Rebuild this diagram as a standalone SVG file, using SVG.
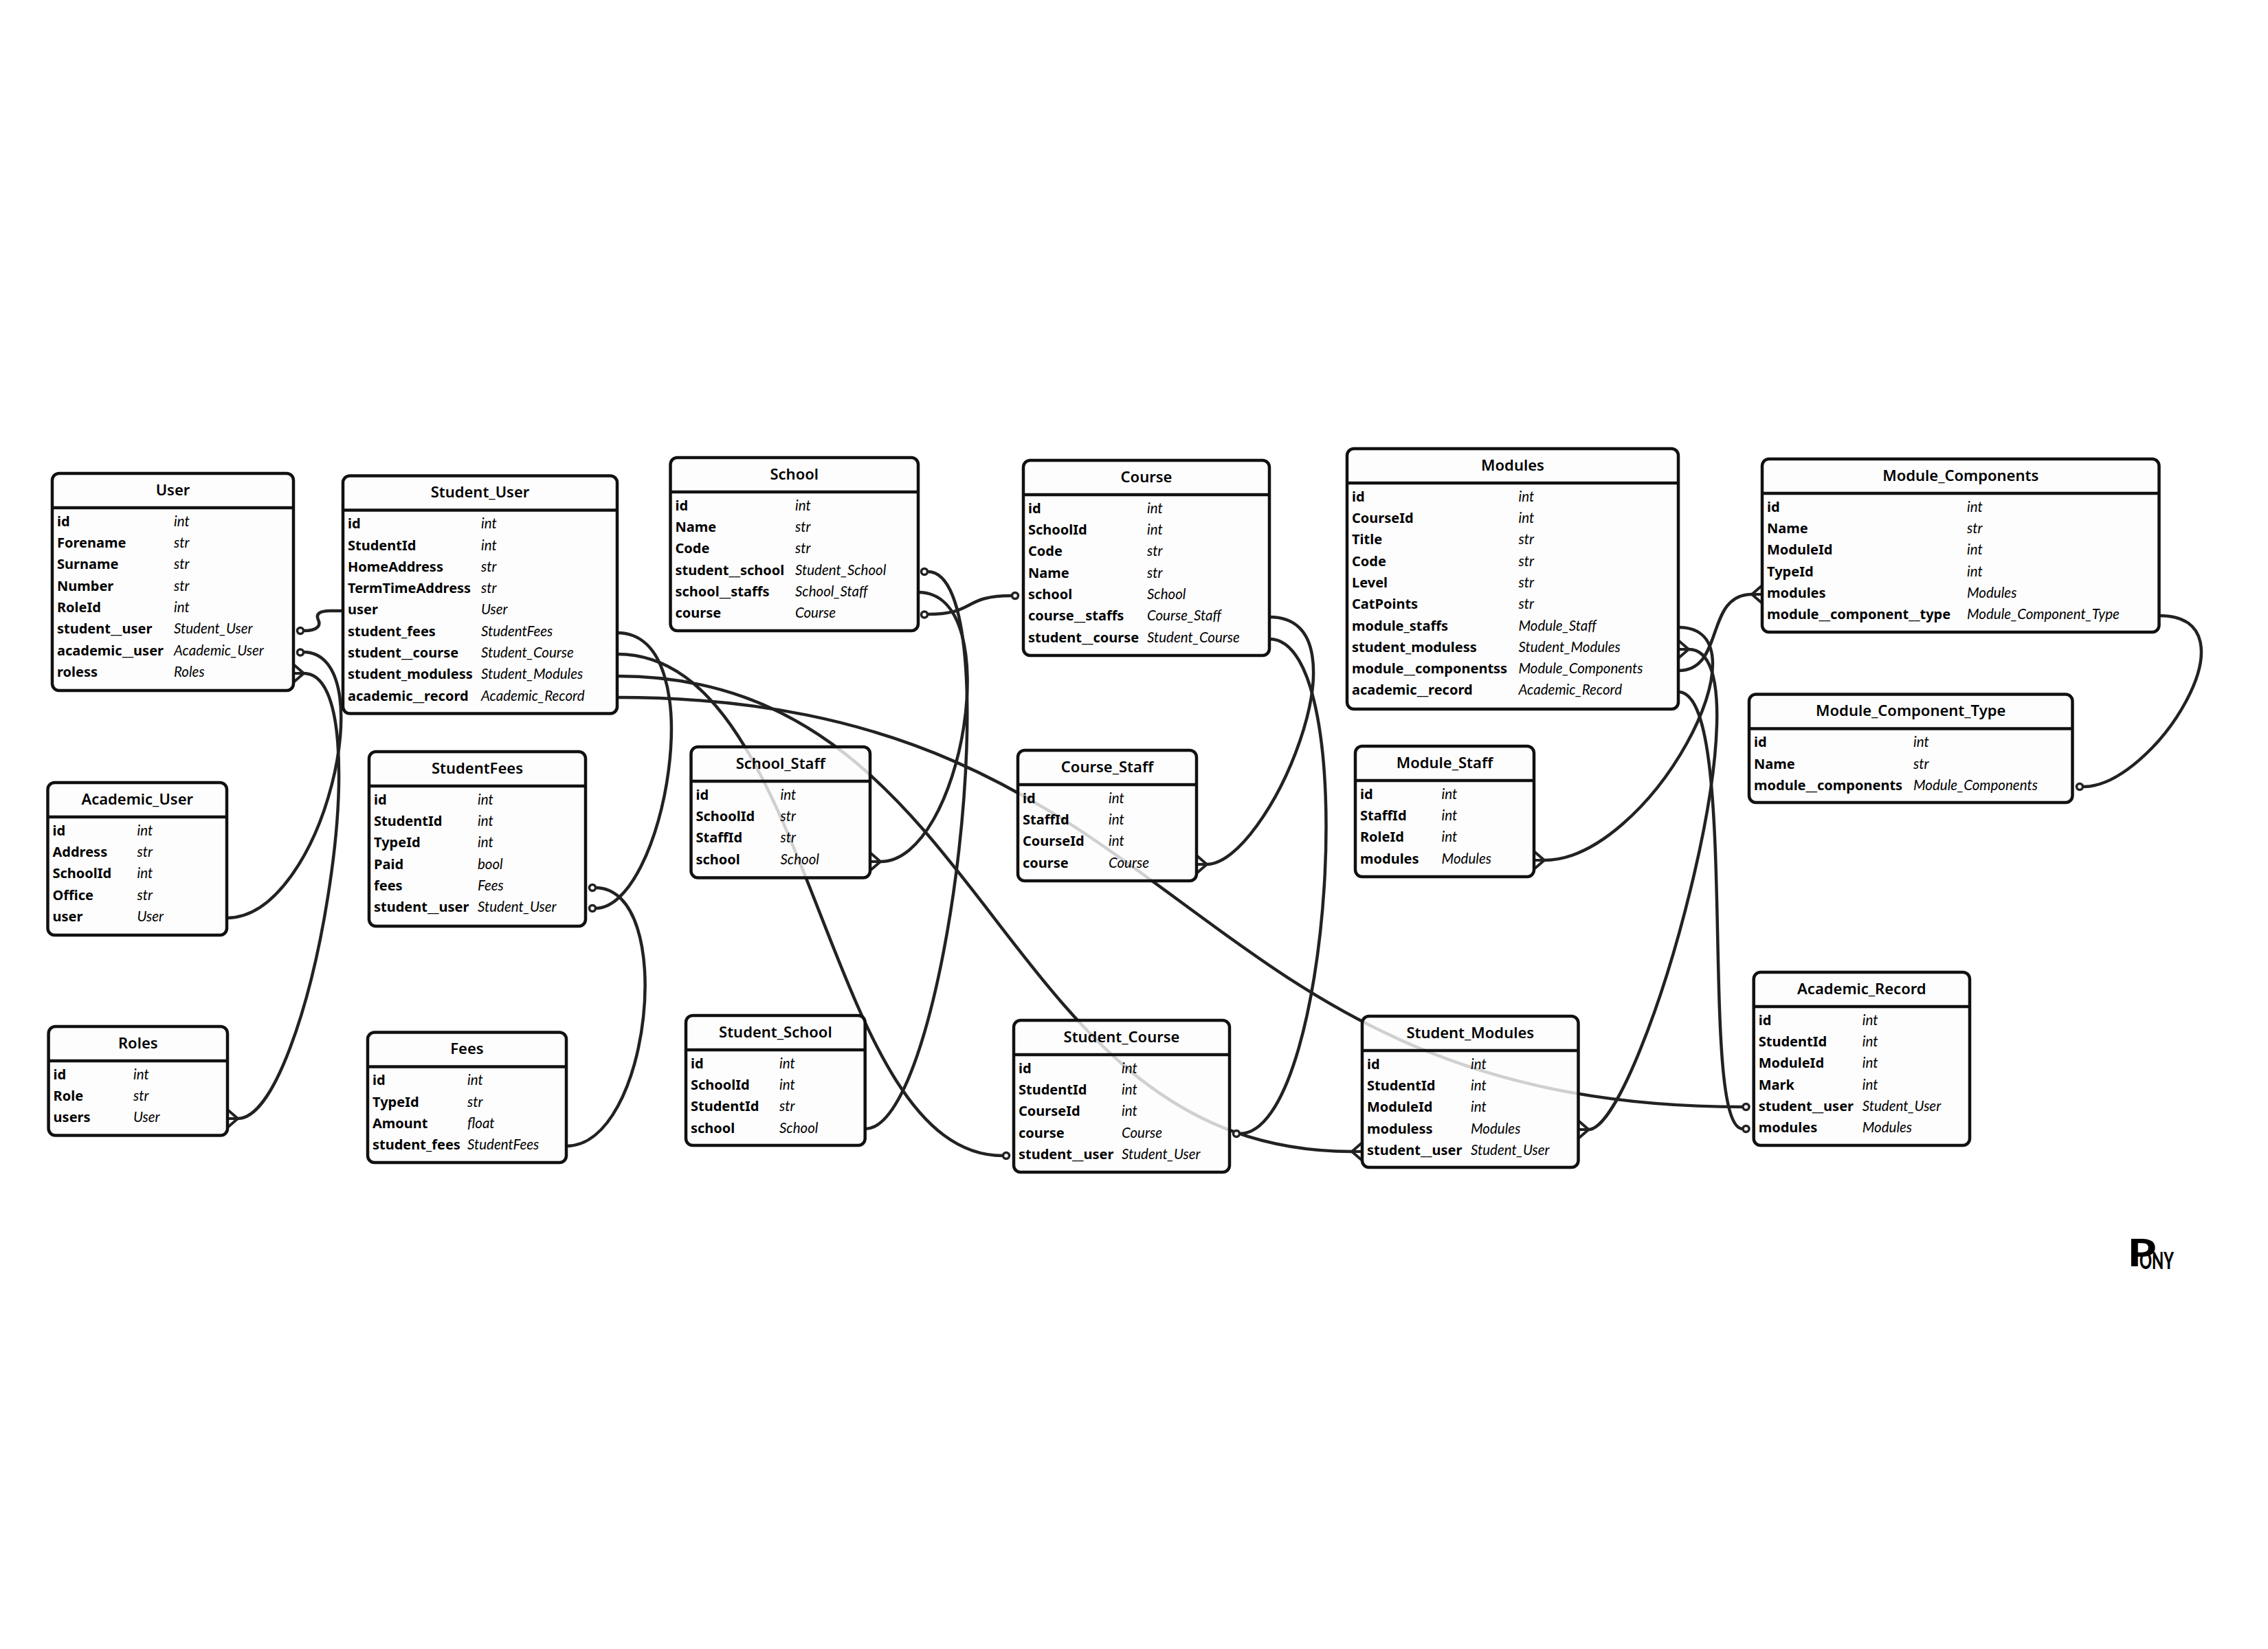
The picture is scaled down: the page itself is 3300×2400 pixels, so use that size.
<svg xmlns="http://www.w3.org/2000/svg" width="3300" height="2400" viewBox="0 0 3300 2400">
<style>
text{fill:#000}
.bg{fill:#fff}
.box{fill:#fdfdfd;fill-opacity:.8;stroke:#111;stroke-width:4.5}
.hd{stroke:#111;stroke-width:4.5}
.t{font-family:"Noto Sans","Liberation Sans",sans-serif;font-size:22px;font-weight:600;text-anchor:middle;transform:translateY(-1.2px)}
.a{font-family:"Noto Sans","Liberation Sans",sans-serif;font-size:20px;font-weight:700;transform:translateY(-.7px)}
.b{font-family:"Lato","Liberation Sans",sans-serif;font-size:20.5px;font-style:italic;font-weight:400;transform:translateY(-.7px)}
.c path{fill:none;stroke:#222;stroke-width:4.5;stroke-linecap:round;stroke-linejoin:round}
.m{fill:none;stroke:#222;stroke-width:4;stroke-linecap:round;stroke-linejoin:round}
.o{fill:#fff;stroke:#222;stroke-width:3.5}
.logo{font-family:"Lato","Liberation Sans",sans-serif;font-weight:900}
</style>
<defs>
<path id="cr" class="m" d="M0 -13L15 0L0 13M0 0H15"/>
<path id="cl" class="m" d="M0 -13L-15 0L0 13M0 0H-15"/>
<circle id="ci" r="4.5" class="o"/>
</defs>
<rect class="bg" width="3300" height="2400"/>
<g id="connectors" class="c">
<path d="M441 918C466 918 466 908 463 902C459 893 466 889 480 889H499"/>
<path d="M441 949C560 949 470 1336 330 1336"/>
<path d="M442 980C560 980 450 1628 346 1628"/>
<path d="M898 921C1039 921 967 1322 866 1322"/>
<path d="M866 1292C986 1292 947 1668 824 1668"/>
<path d="M1350 832C1472 832 1379 1643 1259 1643"/>
<path d="M1336 862C1467 862 1400 1254 1281 1254"/>
<path d="M1350 894C1420 894 1400 867 1472 867"/>
<path d="M1847 898C1999 898 1844 1258 1756 1258"/>
<path d="M1847 930C1984 930 1937 1650 1804 1650"/>
<path d="M898 952C1187 952 1196 1682 1459 1682"/>
<path d="M898 984C1448 984 1442 1676 1967 1676"/>
<path d="M898 1015C1731 1015 1707 1611 2536 1611"/>
<path d="M2442 913C2582 913 2399 1252 2247 1252"/>
<path d="M2457 945C2583 945 2387 1644 2311 1644"/>
<path d="M2442 976C2510 976 2480 865 2549 865"/>
<path d="M2442 1007C2534 1007 2469 1643 2536 1643"/>
<path d="M3141 896C3291 896 3134 1145 3031 1145"/>
<use href="#ci" x="437" y="918"/>
<use href="#ci" x="437" y="949.5"/>
<use href="#ci" x="862" y="1292"/>
<use href="#ci" x="862" y="1322"/>
<use href="#ci" x="1345" y="832"/>
<use href="#ci" x="1345" y="894.5"/>
<use href="#ci" x="1477" y="867"/>
<use href="#ci" x="1464" y="1682"/>
<use href="#ci" x="1799" y="1650"/>
<use href="#ci" x="3026" y="1145"/>
<use href="#ci" x="2540.5" y="1611"/>
<use href="#ci" x="2540.5" y="1643"/>
<use href="#cr" x="427" y="980"/>
<use href="#cr" x="331" y="1628"/>
<use href="#cr" x="1266" y="1254"/>
<use href="#cr" x="1741" y="1258"/>
<use href="#cr" x="2232" y="1252"/>
<use href="#cr" x="2296.5" y="1644"/>
<use href="#cl" x="1982" y="1676"/>
<use href="#cr" x="2442" y="945"/>
<use href="#cl" x="2564" y="865"/>
</g>
<g id="User" transform="translate(76,689)"><rect class="box" width="351" height="316" rx="10"/><path class="hd" d="M0 50H351"/><text class="t" x="175.500" y="33">User</text>
<text class="a" x="7" y="77.5">id</text><text class="b" x="177" y="77.5">int</text>
<text class="a" x="7" y="108.8">Forename</text><text class="b" x="177" y="108.8">str</text>
<text class="a" x="7" y="140.1">Surname</text><text class="b" x="177" y="140.1">str</text>
<text class="a" x="7" y="171.4">Number</text><text class="b" x="177" y="171.4">str</text>
<text class="a" x="7" y="202.7">RoleId</text><text class="b" x="177" y="202.7">int</text>
<text class="a" x="7" y="234">student__user</text><text class="b" x="177" y="234">Student_User</text>
<text class="a" x="7" y="265.3">academic__user</text><text class="b" x="177" y="265.3">Academic_User</text>
<text class="a" x="7" y="296.6">roless</text><text class="b" x="177" y="296.6">Roles</text></g>
<g id="Student_User" transform="translate(499,692.5)"><rect class="box" width="399" height="346" rx="10"/><path class="hd" d="M0 50H399"/><text class="t" x="199.500" y="33">Student_User</text>
<text class="a" x="7" y="77.5">id</text><text class="b" x="201" y="77.5">int</text>
<text class="a" x="7" y="108.8">StudentId</text><text class="b" x="201" y="108.8">int</text>
<text class="a" x="7" y="140.1">HomeAddress</text><text class="b" x="201" y="140.1">str</text>
<text class="a" x="7" y="171.4">TermTimeAddress</text><text class="b" x="201" y="171.4">str</text>
<text class="a" x="7" y="202.7">user</text><text class="b" x="201" y="202.7">User</text>
<text class="a" x="7" y="234">student_fees</text><text class="b" x="201" y="234">StudentFees</text>
<text class="a" x="7" y="265.3">student__course</text><text class="b" x="201" y="265.3">Student_Course</text>
<text class="a" x="7" y="296.6">student_moduless</text><text class="b" x="201" y="296.6">Student_Modules</text>
<text class="a" x="7" y="327.9">academic__record</text><text class="b" x="201" y="327.9">Academic_Record</text></g>
<g id="School" transform="translate(975.5,666)"><rect class="box" width="360.5" height="252" rx="10"/><path class="hd" d="M0 50H360.500"/><text class="t" x="180.250" y="33">School</text>
<text class="a" x="7" y="77.5">id</text><text class="b" x="181.500" y="77.5">int</text>
<text class="a" x="7" y="108.8">Name</text><text class="b" x="181.500" y="108.8">str</text>
<text class="a" x="7" y="140.1">Code</text><text class="b" x="181.500" y="140.1">str</text>
<text class="a" x="7" y="171.4">student__school</text><text class="b" x="181.500" y="171.4">Student_School</text>
<text class="a" x="7" y="202.7">school__staffs</text><text class="b" x="181.500" y="202.7">School_Staff</text>
<text class="a" x="7" y="234">course</text><text class="b" x="181.500" y="234">Course</text></g>
<g id="Course" transform="translate(1489,670)"><rect class="box" width="358" height="284" rx="10"/><path class="hd" d="M0 50H358"/><text class="t" x="179" y="33">Course</text>
<text class="a" x="7" y="77.5">id</text><text class="b" x="180" y="77.5">int</text>
<text class="a" x="7" y="108.8">SchoolId</text><text class="b" x="180" y="108.8">int</text>
<text class="a" x="7" y="140.1">Code</text><text class="b" x="180" y="140.1">str</text>
<text class="a" x="7" y="171.4">Name</text><text class="b" x="180" y="171.4">str</text>
<text class="a" x="7" y="202.7">school</text><text class="b" x="180" y="202.7">School</text>
<text class="a" x="7" y="234">course__staffs</text><text class="b" x="180" y="234">Course_Staff</text>
<text class="a" x="7" y="265.3">student__course</text><text class="b" x="180" y="265.3">Student_Course</text></g>
<g id="Modules" transform="translate(1960,653)"><rect class="box" width="482" height="379" rx="10"/><path class="hd" d="M0 50H482"/><text class="t" x="241" y="33">Modules</text>
<text class="a" x="7" y="77.5">id</text><text class="b" x="249.500" y="77.5">int</text>
<text class="a" x="7" y="108.8">CourseId</text><text class="b" x="249.500" y="108.8">int</text>
<text class="a" x="7" y="140.1">Title</text><text class="b" x="249.500" y="140.1">str</text>
<text class="a" x="7" y="171.4">Code</text><text class="b" x="249.500" y="171.4">str</text>
<text class="a" x="7" y="202.7">Level</text><text class="b" x="249.500" y="202.7">str</text>
<text class="a" x="7" y="234">CatPoints</text><text class="b" x="249.500" y="234">str</text>
<text class="a" x="7" y="265.3">module_staffs</text><text class="b" x="249.500" y="265.3">Module_Staff</text>
<text class="a" x="7" y="296.6">student_moduless</text><text class="b" x="249.500" y="296.6">Student_Modules</text>
<text class="a" x="7" y="327.9">module__componentss</text><text class="b" x="249.500" y="327.9">Module_Components</text>
<text class="a" x="7" y="359.2">academic__record</text><text class="b" x="249.500" y="359.2">Academic_Record</text></g>
<g id="Module_Components" transform="translate(2564,668)"><rect class="box" width="577.5" height="252" rx="10"/><path class="hd" d="M0 50H577.500"/><text class="t" x="288.750" y="33">Module_Components</text>
<text class="a" x="7" y="77.5">id</text><text class="b" x="298" y="77.5">int</text>
<text class="a" x="7" y="108.8">Name</text><text class="b" x="298" y="108.8">str</text>
<text class="a" x="7" y="140.1">ModuleId</text><text class="b" x="298" y="140.1">int</text>
<text class="a" x="7" y="171.4">TypeId</text><text class="b" x="298" y="171.4">int</text>
<text class="a" x="7" y="202.7">modules</text><text class="b" x="298" y="202.7">Modules</text>
<text class="a" x="7" y="234">module__component__type</text><text class="b" x="298" y="234">Module_Component_Type</text></g>
<g id="Module_Component_Type" transform="translate(2545,1010.5)"><rect class="box" width="470.5" height="157.5" rx="10"/><path class="hd" d="M0 50H470.500"/><text class="t" x="235.250" y="33">Module_Component_Type</text>
<text class="a" x="7" y="77.5">id</text><text class="b" x="239" y="77.5">int</text>
<text class="a" x="7" y="108.8">Name</text><text class="b" x="239" y="108.8">str</text>
<text class="a" x="7" y="140.1">module__components</text><text class="b" x="239" y="140.1">Module_Components</text></g>
<g id="Academic_User" transform="translate(69.5,1139)"><rect class="box" width="260.5" height="222" rx="10"/><path class="hd" d="M0 50H260.500"/><text class="t" x="130.250" y="33">Academic_User</text>
<text class="a" x="7" y="77.5">id</text><text class="b" x="130" y="77.5">int</text>
<text class="a" x="7" y="108.8">Address</text><text class="b" x="130" y="108.8">str</text>
<text class="a" x="7" y="140.1">SchoolId</text><text class="b" x="130" y="140.1">int</text>
<text class="a" x="7" y="171.4">Office</text><text class="b" x="130" y="171.4">str</text>
<text class="a" x="7" y="202.7">user</text><text class="b" x="130" y="202.7">User</text></g>
<g id="StudentFees" transform="translate(537,1094)"><rect class="box" width="315" height="254" rx="10"/><path class="hd" d="M0 50H315"/><text class="t" x="157.500" y="33">StudentFees</text>
<text class="a" x="7" y="77.5">id</text><text class="b" x="158" y="77.5">int</text>
<text class="a" x="7" y="108.8">StudentId</text><text class="b" x="158" y="108.8">int</text>
<text class="a" x="7" y="140.1">TypeId</text><text class="b" x="158" y="140.1">int</text>
<text class="a" x="7" y="171.4">Paid</text><text class="b" x="158" y="171.4">bool</text>
<text class="a" x="7" y="202.7">fees</text><text class="b" x="158" y="202.7">Fees</text>
<text class="a" x="7" y="234">student__user</text><text class="b" x="158" y="234">Student_User</text></g>
<g id="School_Staff" transform="translate(1005.5,1087)"><rect class="box" width="260.5" height="190.5" rx="10"/><path class="hd" d="M0 50H260.500"/><text class="t" x="130.250" y="33">School_Staff</text>
<text class="a" x="7" y="77.5">id</text><text class="b" x="130" y="77.5">int</text>
<text class="a" x="7" y="108.8">SchoolId</text><text class="b" x="130" y="108.8">str</text>
<text class="a" x="7" y="140.1">StaffId</text><text class="b" x="130" y="140.1">str</text>
<text class="a" x="7" y="171.4">school</text><text class="b" x="130" y="171.4">School</text></g>
<g id="Course_Staff" transform="translate(1481,1092)"><rect class="box" width="260" height="190" rx="10"/><path class="hd" d="M0 50H260"/><text class="t" x="130" y="33">Course_Staff</text>
<text class="a" x="7" y="77.5">id</text><text class="b" x="132" y="77.5">int</text>
<text class="a" x="7" y="108.8">StaffId</text><text class="b" x="132" y="108.8">int</text>
<text class="a" x="7" y="140.1">CourseId</text><text class="b" x="132" y="140.1">int</text>
<text class="a" x="7" y="171.4">course</text><text class="b" x="132" y="171.4">Course</text></g>
<g id="Module_Staff" transform="translate(1972,1086)"><rect class="box" width="260" height="190" rx="10"/><path class="hd" d="M0 50H260"/><text class="t" x="130" y="33">Module_Staff</text>
<text class="a" x="7" y="77.5">id</text><text class="b" x="125.600" y="77.5">int</text>
<text class="a" x="7" y="108.8">StaffId</text><text class="b" x="125.600" y="108.8">int</text>
<text class="a" x="7" y="140.1">RoleId</text><text class="b" x="125.600" y="140.1">int</text>
<text class="a" x="7" y="171.4">modules</text><text class="b" x="125.600" y="171.4">Modules</text></g>
<g id="Roles" transform="translate(70.6,1494)"><rect class="box" width="260.4" height="158.6" rx="10"/><path class="hd" d="M0 50H260.400"/><text class="t" x="130.200" y="33">Roles</text>
<text class="a" x="7" y="77.5">id</text><text class="b" x="123.400" y="77.5">int</text>
<text class="a" x="7" y="108.8">Role</text><text class="b" x="123.400" y="108.8">str</text>
<text class="a" x="7" y="140.1">users</text><text class="b" x="123.400" y="140.1">User</text></g>
<g id="Fees" transform="translate(535,1502.5)"><rect class="box" width="289" height="189.5" rx="10"/><path class="hd" d="M0 50H289"/><text class="t" x="144.500" y="33">Fees</text>
<text class="a" x="7" y="77.5">id</text><text class="b" x="145" y="77.5">int</text>
<text class="a" x="7" y="108.8">TypeId</text><text class="b" x="145" y="108.8">str</text>
<text class="a" x="7" y="140.1">Amount</text><text class="b" x="145" y="140.1">float</text>
<text class="a" x="7" y="171.4">student_fees</text><text class="b" x="145" y="171.4">StudentFees</text></g>
<g id="Student_School" transform="translate(998,1478)"><rect class="box" width="260.7" height="189" rx="10"/><path class="hd" d="M0 50H260.700"/><text class="t" x="130.350" y="33">Student_School</text>
<text class="a" x="7" y="77.5">id</text><text class="b" x="136" y="77.5">int</text>
<text class="a" x="7" y="108.8">SchoolId</text><text class="b" x="136" y="108.8">int</text>
<text class="a" x="7" y="140.1">StudentId</text><text class="b" x="136" y="140.1">str</text>
<text class="a" x="7" y="171.4">school</text><text class="b" x="136" y="171.4">School</text></g>
<g id="Student_Course" transform="translate(1475,1485)"><rect class="box" width="314" height="221" rx="10"/><path class="hd" d="M0 50H314"/><text class="t" x="157" y="33">Student_Course</text>
<text class="a" x="7" y="77.5">id</text><text class="b" x="157" y="77.5">int</text>
<text class="a" x="7" y="108.8">StudentId</text><text class="b" x="157" y="108.8">int</text>
<text class="a" x="7" y="140.1">CourseId</text><text class="b" x="157" y="140.1">int</text>
<text class="a" x="7" y="171.4">course</text><text class="b" x="157" y="171.4">Course</text>
<text class="a" x="7" y="202.7">student__user</text><text class="b" x="157" y="202.7">Student_User</text></g>
<g id="Student_Modules" transform="translate(1982,1479)"><rect class="box" width="314.5" height="220" rx="10"/><path class="hd" d="M0 50H314.500"/><text class="t" x="157.250" y="33">Student_Modules</text>
<text class="a" x="7" y="77.5">id</text><text class="b" x="158" y="77.5">int</text>
<text class="a" x="7" y="108.8">StudentId</text><text class="b" x="158" y="108.8">int</text>
<text class="a" x="7" y="140.1">ModuleId</text><text class="b" x="158" y="140.1">int</text>
<text class="a" x="7" y="171.4">moduless</text><text class="b" x="158" y="171.4">Modules</text>
<text class="a" x="7" y="202.7">student__user</text><text class="b" x="158" y="202.7">Student_User</text></g>
<g id="Academic_Record" transform="translate(2551.7,1415)"><rect class="box" width="314.3" height="252" rx="10"/><path class="hd" d="M0 50H314.300"/><text class="t" x="157.150" y="33">Academic_Record</text>
<text class="a" x="7" y="77.5">id</text><text class="b" x="158" y="77.5">int</text>
<text class="a" x="7" y="108.8">StudentId</text><text class="b" x="158" y="108.8">int</text>
<text class="a" x="7" y="140.1">ModuleId</text><text class="b" x="158" y="140.1">int</text>
<text class="a" x="7" y="171.4">Mark</text><text class="b" x="158" y="171.4">int</text>
<text class="a" x="7" y="202.7">student__user</text><text class="b" x="158" y="202.7">Student_User</text>
<text class="a" x="7" y="234">modules</text><text class="b" x="158" y="234">Modules</text></g>
<g id="logo"><text class="logo" x="3096" y="1843" font-size="56" textLength="41" lengthAdjust="spacingAndGlyphs">P</text><text class="logo" x="3113" y="1847" font-size="34" textLength="50" lengthAdjust="spacingAndGlyphs">ONY</text></g>
</svg>
